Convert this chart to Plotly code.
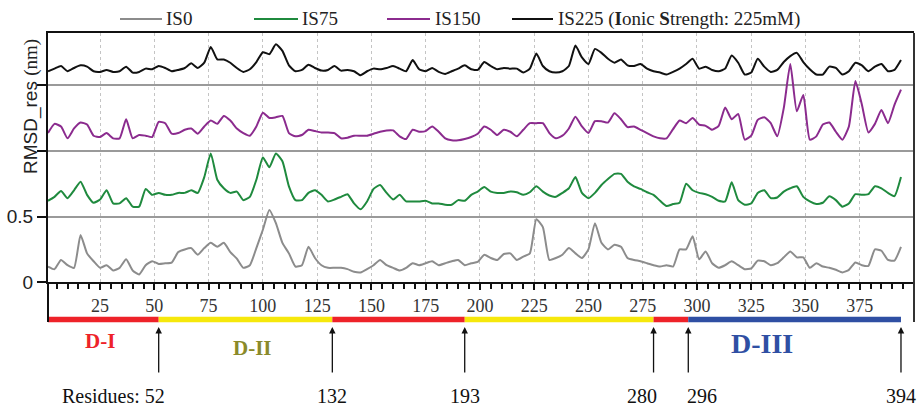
import plotly.graph_objects as go

# ---------------- data ----------------
residues = list(range(1, 395, 3))

rmsd_is0 = [0.12, 0.10, 0.17, 0.13, 0.11, 0.36, 0.22, 0.16, 0.11, 0.13, 0.09, 0.11, 0.175, 0.09, 0.06, 0.13, 0.16, 0.14, 0.145, 0.15,
            0.23, 0.25, 0.26, 0.21, 0.26, 0.30, 0.27, 0.30, 0.23, 0.18, 0.11, 0.13, 0.26, 0.40,
            0.55, 0.45, 0.30, 0.22, 0.12, 0.13, 0.27, 0.185, 0.13, 0.11, 0.11, 0.11, 0.10, 0.08, 0.075, 0.10, 0.13, 0.17, 0.13, 0.11,
            0.09, 0.11, 0.145, 0.13, 0.145, 0.16, 0.13, 0.145, 0.16, 0.17, 0.13, 0.145, 0.155,
            0.21, 0.185, 0.17, 0.215, 0.22, 0.17, 0.195, 0.22, 0.48, 0.42, 0.17, 0.185, 0.21, 0.26, 0.22, 0.185, 0.25, 0.45, 0.30, 0.25,
            0.285, 0.27, 0.185, 0.17, 0.16, 0.145, 0.13, 0.12, 0.13, 0.12, 0.25, 0.25, 0.35,
            0.175, 0.235, 0.145, 0.11, 0.13, 0.16, 0.13, 0.10, 0.105, 0.165, 0.16, 0.13, 0.145, 0.19, 0.235, 0.19, 0.19, 0.11, 0.145, 0.12,
            0.11, 0.095, 0.075, 0.095, 0.15, 0.13, 0.125, 0.25, 0.24, 0.17, 0.165, 0.27]

rmsd_is75 = [0.12, 0.15, 0.195, 0.14, 0.20, 0.265, 0.165, 0.105, 0.13, 0.20, 0.10, 0.10, 0.14, 0.075, 0.075, 0.21, 0.165, 0.18, 0.165, 0.165,
             0.18, 0.18, 0.20, 0.18, 0.30, 0.48, 0.28, 0.215, 0.18, 0.19, 0.125, 0.15, 0.28, 0.45,
             0.375, 0.48, 0.42, 0.23, 0.125, 0.125, 0.18, 0.20, 0.165, 0.115, 0.13, 0.15, 0.17, 0.10, 0.055, 0.115, 0.21, 0.24, 0.18, 0.13,
             0.165, 0.115, 0.115, 0.115, 0.12, 0.10, 0.10, 0.09, 0.09, 0.125, 0.12, 0.165, 0.19,
             0.225, 0.19, 0.18, 0.18, 0.19, 0.185, 0.165, 0.185, 0.23, 0.19, 0.16, 0.15, 0.18, 0.215, 0.30, 0.18, 0.14, 0.18, 0.24, 0.285,
             0.325, 0.325, 0.265, 0.23, 0.21, 0.185, 0.165, 0.12, 0.08, 0.095, 0.105, 0.25, 0.20,
             0.18, 0.17, 0.15, 0.12, 0.115, 0.26, 0.125, 0.09, 0.10, 0.18, 0.20, 0.14, 0.145, 0.19, 0.215, 0.23, 0.15, 0.115, 0.095, 0.105,
             0.155, 0.125, 0.075, 0.10, 0.17, 0.165, 0.17, 0.23, 0.215, 0.18, 0.155, 0.30]

rmsd_is150 = [0.135, 0.205, 0.185, 0.095, 0.17, 0.215, 0.20, 0.115, 0.105, 0.135, 0.095, 0.095, 0.24, 0.095, 0.12, 0.115, 0.105, 0.22, 0.21, 0.13,
              0.135, 0.16, 0.17, 0.13, 0.185, 0.23, 0.205, 0.265, 0.23, 0.17, 0.135, 0.115, 0.185, 0.29,
              0.25, 0.255, 0.265, 0.135, 0.11, 0.12, 0.16, 0.15, 0.14, 0.14, 0.135, 0.095, 0.10, 0.115, 0.115, 0.115, 0.13, 0.145, 0.155, 0.155,
              0.11, 0.09, 0.16, 0.145, 0.15, 0.185, 0.145, 0.095, 0.08, 0.08, 0.09, 0.105, 0.13,
              0.185, 0.16, 0.12, 0.16, 0.145, 0.11, 0.16, 0.21, 0.21, 0.21, 0.135, 0.095, 0.115, 0.17, 0.26, 0.185, 0.135, 0.225, 0.225, 0.215,
              0.285, 0.24, 0.18, 0.185, 0.16, 0.135, 0.11, 0.095, 0.095, 0.165, 0.23, 0.21, 0.25,
              0.20, 0.19, 0.16, 0.19, 0.33, 0.24, 0.28, 0.085, 0.115, 0.235, 0.255, 0.21, 0.11, 0.325, 0.66, 0.30, 0.425, 0.085, 0.11, 0.20,
              0.215, 0.145, 0.085, 0.185, 0.53, 0.35, 0.14, 0.205, 0.31, 0.21, 0.35, 0.465]

rmsd_is225 = [0.105, 0.125, 0.145, 0.105, 0.13, 0.15, 0.14, 0.105, 0.10, 0.115, 0.10, 0.105, 0.14, 0.095, 0.10, 0.125, 0.12, 0.145, 0.13, 0.105,
              0.115, 0.13, 0.165, 0.13, 0.17, 0.29, 0.195, 0.195, 0.17, 0.13, 0.10, 0.12, 0.175, 0.25,
              0.235, 0.31, 0.26, 0.15, 0.105, 0.115, 0.155, 0.13, 0.11, 0.115, 0.145, 0.11, 0.115, 0.105, 0.075, 0.105, 0.125, 0.12, 0.13, 0.145,
              0.125, 0.105, 0.19, 0.12, 0.105, 0.13, 0.10, 0.085, 0.105, 0.125, 0.15, 0.12, 0.115,
              0.175, 0.145, 0.12, 0.13, 0.125, 0.125, 0.095, 0.125, 0.24, 0.145, 0.105, 0.095, 0.105, 0.145, 0.30, 0.21, 0.16, 0.275, 0.245, 0.20,
              0.17, 0.195, 0.15, 0.145, 0.16, 0.125, 0.105, 0.095, 0.08, 0.10, 0.125, 0.16, 0.20,
              0.125, 0.14, 0.115, 0.105, 0.125, 0.225, 0.17, 0.08, 0.095, 0.20, 0.14, 0.10, 0.115, 0.175, 0.22, 0.245, 0.175, 0.12, 0.08, 0.08,
              0.14, 0.13, 0.08, 0.105, 0.17, 0.15, 0.105, 0.14, 0.16, 0.105, 0.115, 0.19]

series_names = ["IS0", "IS75", "IS150", "IS225 (<b>I</b>onic <b>S</b>trength: 225mM)"]
series_offsets = [0.0, 0.5, 1.0, 1.5]
series_colors = ["#8c8c8c", "#1f8a3e", "#8b2b8e", "#111111"]

domain_starts = [1, 52, 132, 193, 280, 296]
domain_ends = [52, 132, 193, 280, 296, 394]
domain_colors = ["#ee2229", "#f6e80c", "#ee2229", "#f6e80c", "#ee2229", "#2f4fa3"]
domain_labels = ["D-I", "D-II", "D-III"]
domain_label_pos = [25, 95, 330]
domain_label_colors = ["#ee2229", "#8a8a2a", "#2f4fa3"]
domain_label_sizes = [21, 21, 28]

boundary_residues = [52, 132, 193, 280, 296, 394]
boundary_texts = ["Residues: 52", "132", "193", "280", "296", "394"]
boundary_shift = [8, 0, 0, -12, 14, 0]
boundary_anchor = ["right", "center", "center", "center", "center", "center"]

x_ticks = list(range(25, 400, 25))
y_ticks = [0, 0.5, 1.0, 1.5]
y_ticktext = ["0", "0.5", "", ""]

# ---------------- figure ----------------
W, H = 919, 406
ML, MR, MT, MB = 48, 5, 33, 0
PW = W - ML - MR
PH = H - MT - MB


def py(px):
    """pixel row -> paper y"""
    return (H - px) / PH


def pxx(px):
    """pixel column -> paper x"""
    return (px - ML) / PW


SERIF = "Liberation Serif, Times New Roman, serif"
SANS = "Liberation Sans, Arial, sans-serif"

fig = go.Figure()
all_series = [rmsd_is0, rmsd_is75, rmsd_is150, rmsd_is225]
for vals, name, off, col in zip(all_series, series_names, series_offsets, series_colors):
    fig.add_trace(go.Scatter(
        x=residues, y=[v + off for v in vals], mode="lines", name=name,
        line=dict(color=col, width=2, shape="spline", smoothing=0.5), hoverinfo="skip",
        showlegend=False))

shapes = []
annotations = []

# legend (drawn manually for exact placement)
legend_line_x = [(120, 162), (254, 298), (387, 430), (512, 553)]
legend_text_x = [164, 300, 433, 556]
for (a, b), tx, name, col in zip(legend_line_x, legend_text_x, series_names, series_colors):
    shapes.append(dict(type="line", xref="paper", yref="paper", x0=pxx(a), x1=pxx(b),
                       y0=py(19), y1=py(19), line=dict(color=col, width=2)))
    annotations.append(dict(x=pxx(tx), y=py(19), xref="paper", yref="paper", text=name,
                            showarrow=False, xanchor="left", yanchor="middle",
                            font=dict(family=SERIF, size=19, color="#222")))

# domain bar
for s, e, c in zip(domain_starts, domain_ends, domain_colors):
    shapes.append(dict(type="rect", xref="x", yref="paper", x0=s, x1=e,
                       y0=py(322.3), y1=py(316.8), fillcolor=c, line=dict(width=0), layer="above"))
# frame extensions
shapes.append(dict(type="line", xref="paper", yref="paper", x0=1, x1=1, y0=py(322), y1=1,
                   line=dict(color="#333", width=2)))
shapes.append(dict(type="line", xref="paper", yref="paper", x0=0, x1=0, y0=py(322), y1=py(282),
                   line=dict(color="#111", width=2)))

for r, t, sh, an in zip(boundary_residues, boundary_texts, boundary_shift, boundary_anchor):
    annotations.append(dict(x=r, y=py(327), xref="x", yref="paper", text="", showarrow=True,
                            ax=0, ay=47, arrowhead=2, arrowsize=1, arrowwidth=1.3, arrowcolor="#111"))
    annotations.append(dict(x=r, y=py(396), xref="x", yref="paper", text=t, showarrow=False,
                            xanchor=an, yanchor="middle", xshift=sh,
                            font=dict(family=SERIF, size=20, color="#111")))
for lab, pos, col, sz, ypx in zip(domain_labels, domain_label_pos, domain_label_colors, domain_label_sizes, [341, 348, 343]):
    annotations.append(dict(x=pos, y=py(ypx), xref="x", yref="paper", text="<b>" + lab + "</b>",
                            showarrow=False, xanchor="center", yanchor="middle",
                            font=dict(family=SERIF, size=sz, color=col)))
annotations.append(dict(x=0, y=py(107), xref="paper", yref="paper", xshift=-17,
                        text="RMSD_res <span style='font-family:Liberation Serif'>(nm)</span>",
                        textangle=-90, showarrow=False, xanchor="center", yanchor="middle",
                        font=dict(family=SANS, size=19, color="#222")))

fig.update_layout(
    width=W, height=H, margin=dict(l=ML, r=MR, t=MT, b=MB, autoexpand=False),
    paper_bgcolor="white", plot_bgcolor="white",
    showlegend=False,
    xaxis=dict(range=[1, 400], tickvals=x_ticks, ticks="outside", ticklen=6, tickwidth=1.5,
               tickcolor="#111", showline=True, linecolor="#111", linewidth=2, mirror=True,
               showgrid=True, gridcolor="#c4c4c4", griddash="dot", gridwidth=1,
               zeroline=False, tickfont=dict(family=SERIF, size=18, color="#333"),
               ticklabelstandoff=0, automargin=False,
               minor=dict(dtick=5, tick0=0, ticks="outside", ticklen=5, tickwidth=1.5,
                          tickcolor="#111", showgrid=False),
               anchor="y"),
    yaxis=dict(range=[0, 1.896], domain=[py(282.3), 1], tickvals=y_ticks, ticktext=y_ticktext,
               ticks="outside", ticklen=9, tickwidth=1.5, tickcolor="#111",
               showline=True, linecolor="#111", linewidth=2, automargin=False,
               showgrid=True, gridcolor="#9a9a9a", gridwidth=2, zeroline=False,
               tickfont=dict(family=SANS, size=19, color="#222")),
    shapes=shapes, annotations=annotations,
)

fig.write_html("out.html")
